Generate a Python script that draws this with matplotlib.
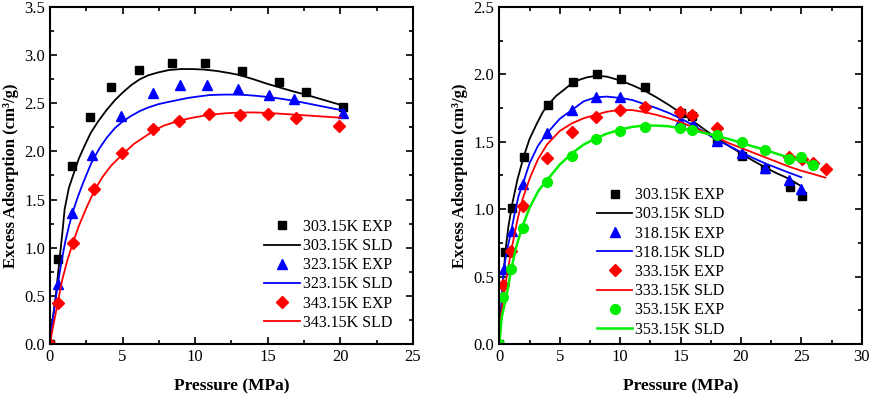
import matplotlib
matplotlib.use("Agg")
import matplotlib.pyplot as plt
from matplotlib.ticker import MultipleLocator

plt.rcParams['font.family'] = ['Liberation Serif', 'DejaVu Serif']
plt.rcParams['font.size'] = 11

# ---- left panel: measured points ----
L_p303 = [0, 0.53, 1.49, 2.76, 4.18, 6.16, 8.41, 10.67, 13.2, 15.8, 17.6, 20.2]
L_v303 = [0, 0.88, 1.85, 2.36, 2.67, 2.85, 2.92, 2.92, 2.84, 2.72, 2.62, 2.46]
L_p323 = [0.53, 1.54, 2.9, 4.87, 7.13, 8.97, 10.8, 12.97, 15.08, 16.83, 20.2]
L_v323 = [0.62, 1.36, 1.96, 2.37, 2.61, 2.69, 2.69, 2.65, 2.59, 2.54, 2.40]
L_p343 = [0, 0.53, 1.6, 3.06, 4.99, 7.13, 8.92, 10.97, 13.1, 15.0, 16.97, 19.9]
L_v343 = [0, 0.43, 1.05, 1.61, 1.98, 2.23, 2.32, 2.39, 2.38, 2.39, 2.35, 2.265]

# ---- left panel: SLD curves ----
L_sp303 = [0, 0.15, 0.37, 0.66, 0.85, 1.01, 1.3, 1.7, 2.0, 2.39, 2.8, 3.31, 3.9, 4.46, 5.0, 5.61, 6.2,
           6.76, 7.45, 8.2, 9.0, 9.8, 10.6, 11.5, 12.3, 13.0, 14.0, 15.0, 15.8, 16.7, 17.6, 18.5, 19.4, 20.2]
L_sv303 = [0, 0.22, 0.46, 0.88, 1.15, 1.40, 1.62, 1.80, 1.93, 2.06, 2.19, 2.31, 2.43, 2.53, 2.61, 2.69, 2.75,
           2.79, 2.82, 2.845, 2.855, 2.855, 2.85, 2.835, 2.815, 2.795, 2.75, 2.70, 2.665, 2.625, 2.59, 2.55, 2.51, 2.475]
L_sp323 = [0, 0.15, 0.3, 0.55, 0.8, 1.05, 1.3, 1.55, 1.9, 2.3, 2.85, 3.4, 3.9, 4.46, 5.0, 5.61, 6.2, 6.76,
           7.45, 8.2, 8.85, 9.5, 10.2, 11.0, 12.0, 13.0, 14.0, 15.0, 16.0, 17.0, 18.0, 19.0, 20.2]
L_sv323 = [0, 0.19, 0.37, 0.63, 0.86, 1.06, 1.22, 1.36, 1.52, 1.68, 1.88, 2.03, 2.14, 2.24, 2.31, 2.37, 2.42, 2.455,
           2.49, 2.515, 2.535, 2.555, 2.57, 2.585, 2.59, 2.59, 2.58, 2.565, 2.545, 2.52, 2.49, 2.46, 2.424]
L_sp343 = [0, 0.2, 0.55, 0.85, 1.2, 1.59, 2.0, 2.5, 3.08, 3.6, 4.2, 5.0, 5.8, 6.4, 7.1, 7.8, 8.9, 10.0,
           11.0, 12.0, 13.0, 14.0, 15.0, 16.0, 17.0, 18.0, 19.0, 20.0]
L_sv343 = [0, 0.17, 0.44, 0.67, 0.87, 1.056, 1.23, 1.41, 1.60, 1.73, 1.85, 1.97, 2.08, 2.14, 2.21, 2.265, 2.32, 2.355,
           2.38, 2.395, 2.403, 2.405, 2.40, 2.39, 2.38, 2.37, 2.36, 2.35]

# ---- right panel: measured points ----
R_p303 = [0, 0.44, 1.05, 2.02, 4.0, 6.07, 8.06, 10.07, 12.09, 15.0, 15.98, 18.0, 20.07, 22.0, 24.09, 25.08]
R_v303 = [0, 0.685, 1.006, 1.39, 1.77, 1.94, 2.0, 1.966, 1.906, 1.71, 1.69, 1.51, 1.395, 1.30, 1.162, 1.10]
R_p318 = [0.39, 1.05, 1.93, 3.97, 5.99, 8.0, 10.0, 14.96, 16.06, 18.0, 20.07, 22.02, 24.0, 25.0]
R_v318 = [0.56, 0.84, 1.19, 1.563, 1.736, 1.83, 1.83, 1.657, 1.632, 1.506, 1.415, 1.303, 1.217, 1.15]
R_p333 = [0.33, 0.94, 1.99, 3.97, 5.99, 8.0, 10.0, 12.06, 14.96, 15.98, 18.0, 24.0, 25.03, 25.94, 27.02]
R_v333 = [0.44, 0.69, 1.02, 1.38, 1.57, 1.686, 1.736, 1.756, 1.719, 1.70, 1.60, 1.385, 1.372, 1.345, 1.296]
R_p353 = [0, 0.33, 0.97, 1.99, 3.97, 5.99, 8.0, 10.0, 12.06, 14.96, 15.98, 18.0, 20.07, 22.02, 24.0, 25.0, 26.0]
R_v353 = [0, 0.35, 0.56, 0.858, 1.20, 1.397, 1.52, 1.58, 1.612, 1.60, 1.588, 1.548, 1.50, 1.44, 1.372, 1.39, 1.328]

# ---- right panel: SLD curves ----
R_sp303 = [0, 0.08, 0.25, 0.5, 0.75, 1.05, 1.5, 2.02, 2.5, 3.12, 3.6, 4.03, 4.7, 5.33, 6.1, 6.7, 7.26, 8.08,
           8.9, 10.0, 11.0, 12.0, 13.0, 14.0, 15.0, 16.0, 17.0, 18.0, 19.0, 20.0, 21.0, 22.0, 23.0, 24.0, 25.0]
R_sv303 = [0, 0.155, 0.40, 0.685, 0.87, 1.03, 1.22, 1.39, 1.52, 1.637, 1.72, 1.773, 1.84, 1.884, 1.94, 1.962, 1.978, 1.99,
           1.983, 1.955, 1.92, 1.88, 1.83, 1.775, 1.715, 1.655, 1.59, 1.526, 1.47, 1.415, 1.36, 1.31, 1.265, 1.225, 1.17]
R_sp318 = [0, 0.15, 0.36, 0.65, 0.97, 1.3, 1.6, 1.96, 2.5, 3.2, 3.95, 5.0, 6.02, 6.98, 8.0, 8.9, 10.0, 11.0,
           12.0, 13.0, 14.0, 15.0, 16.0, 17.0, 18.0, 19.0, 20.0, 21.0, 22.0, 23.0, 24.0, 25.0]
R_sv318 = [0, 0.24, 0.55, 0.70, 0.833, 0.98, 1.10, 1.19, 1.34, 1.47, 1.563, 1.67, 1.736, 1.80, 1.83, 1.835, 1.825, 1.81,
           1.78, 1.75, 1.715, 1.674, 1.625, 1.57, 1.513, 1.47, 1.424, 1.38, 1.34, 1.305, 1.27, 1.237]
R_sp333 = [0, 0.15, 0.5, 0.97, 1.5, 1.88, 2.02, 2.57, 3.2, 3.95, 5.0, 6.02, 7.0, 8.0, 8.9, 10.0, 11.0, 12.0,
           13.0, 14.0, 15.0, 16.0, 17.0, 18.0, 19.0, 20.0, 21.0, 22.0, 23.0, 24.0, 25.0, 26.0, 27.0]
R_sv333 = [0, 0.22, 0.44, 0.685, 0.92, 1.06, 1.10, 1.24, 1.37, 1.48, 1.58, 1.637, 1.675, 1.70, 1.723, 1.736, 1.735, 1.72,
           1.70, 1.675, 1.645, 1.61, 1.57, 1.533, 1.49, 1.455, 1.42, 1.385, 1.35, 1.315, 1.285, 1.26, 1.234]
R_sp353 = [0, 0.2, 0.58, 1.0, 1.4, 1.88, 2.5, 3.26, 3.95, 5.0, 6.02, 7.0, 8.0, 8.9, 10.0, 11.0, 12.0, 13.0,
           14.0, 15.0, 16.0, 17.0, 18.0, 19.0, 20.0, 21.0, 22.0, 23.0, 24.0, 25.0, 26.0]
R_sv353 = [0, 0.20, 0.35, 0.56, 0.72, 0.863, 1.01, 1.14, 1.215, 1.33, 1.415, 1.48, 1.526, 1.56, 1.59, 1.61, 1.62, 1.62,
           1.615, 1.60, 1.585, 1.565, 1.543, 1.52, 1.493, 1.465, 1.44, 1.41, 1.382, 1.36, 1.335]

fig = plt.figure(figsize=(8.72, 3.97), dpi=100)
ax1 = fig.add_axes([0.0573, 0.1335, 0.4163, 0.849])
ax2 = fig.add_axes([0.5726, 0.1335, 0.4156, 0.849])

ms = 6.5
ax1.plot(L_p303, L_v303, 's', color='black', ms=5.8, label='303.15K EXP')
ax1.plot(L_sp303, L_sv303, '-', color='black', lw=1.3, label='303.15K SLD')
ax1.plot(L_p323, L_v323, '^', color='blue', ms=ms, label='323.15K EXP')
ax1.plot(L_sp323, L_sv323, '-', color='blue', lw=1.3, label='323.15K SLD')
ax1.plot(L_p343, L_v343, 'D', color='red', ms=5.8, label='343.15K EXP')
ax1.plot(L_sp343, L_sv343, '-', color='red', lw=1.3, label='343.15K SLD')

ax2.plot(R_p303, R_v303, 's', color='black', ms=5.8, label='303.15K EXP')
ax2.plot(R_sp303, R_sv303, '-', color='black', lw=1.3, label='303.15K SLD')
ax2.plot(R_p318, R_v318, '^', color='blue', ms=ms, label='318.15K EXP')
ax2.plot(R_sp318, R_sv318, '-', color='blue', lw=1.3, label='318.15K SLD')
ax2.plot(R_p333, R_v333, 'D', color='red', ms=5.8, label='333.15K EXP')
ax2.plot(R_sp333, R_sv333, '-', color='red', lw=1.3, label='333.15K SLD')
ax2.plot(R_p353, R_v353, 'o', color='#00ee00', ms=7, label='353.15K EXP')
ax2.plot(R_sp353, R_sv353, '-', color='#00ee00', lw=1.8, label='353.15K SLD')

ax1.set_xlim(0, 25)
ax1.set_ylim(0, 3.5)
ax2.set_xlim(0, 30)
ax2.set_ylim(0, 2.5)

for ax in (ax1, ax2):
    ax.xaxis.set_major_locator(MultipleLocator(5))
    ax.xaxis.set_minor_locator(MultipleLocator(2.5))
    ax.yaxis.set_major_locator(MultipleLocator(0.5))
    ax.yaxis.set_minor_locator(MultipleLocator(0.25))
    ax.yaxis.set_major_formatter(plt.FormatStrFormatter('%.1f'))
    ax.tick_params(which='both', direction='in', top=True, right=True, width=1.2)
    ax.tick_params(which='major', length=5, labelsize=12)
    ax.tick_params(which='minor', length=3)
    for s in ax.spines.values():
        s.set_linewidth(1.5)
    ax.set_xlabel('Pressure (MPa)', fontsize=12.5, fontweight='bold', labelpad=10)
    ax.set_ylabel('Excess Adsorption (cm³/g)', fontsize=12, fontweight='bold', labelpad=4)

ax1.legend(loc='lower right', bbox_to_anchor=(0.96, 0.02), frameon=False, fontsize=11.5,
           labelspacing=0.2, handlelength=2.2, handletextpad=0.2, borderaxespad=0)
ax2.legend(loc='lower right', bbox_to_anchor=(0.64, 0.0), frameon=False, fontsize=11.5,
           labelspacing=0.2, handlelength=2.2, handletextpad=0.2, borderaxespad=0)

fig.savefig('out.png', dpi=100)
